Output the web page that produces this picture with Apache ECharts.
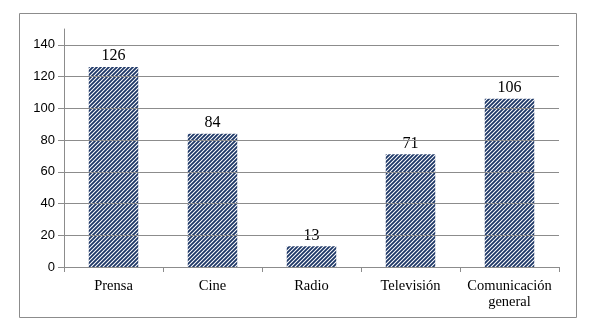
<!DOCTYPE html>
<html><head><meta charset="utf-8">
<script src="https://cdn.jsdelivr.net/npm/echarts@6/dist/echarts.min.js"></script>
<style>html,body{margin:0;padding:0;background:#fff}#c{width:600px;height:329px}</style>
</head><body><div id="c"></div>
<script>
const categories = ['Prensa', 'Cine', 'Radio', 'Televisión', 'Comunicación\ngeneral'];
const values = [126, 84, 13, 71, 106];
const yTicks = [0, 20, 40, 60, 80, 100, 120, 140];

function hatch() {
  const c = document.createElement('canvas');
  c.width = 4; c.height = 4;
  const g = c.getContext('2d');
  g.fillStyle = '#ffffff'; g.fillRect(0, 0, 4, 4);
  g.strokeStyle = '#1c3666'; g.lineWidth = 1.8;
  g.beginPath();
  g.moveTo(-1, 5); g.lineTo(5, -1);
  g.moveTo(-1, 1); g.lineTo(1, -1);
  g.moveTo(3, 5); g.lineTo(5, 3);
  g.stroke();
  return c;
}

const chart = echarts.init(document.getElementById('c'), null, {renderer: 'canvas'});
chart.setOption({
  animation: false,
  graphic: [{type: 'rect', shape: {x: 19.5, y: 13.5, width: 557, height: 304}, style: {fill: 'none', stroke: '#8c8c8c', lineWidth: 1}}],
  grid: {left: 64, right: 41, top: 29, bottom: 62},
  xAxis: {
    type: 'category', data: categories,
    axisLine: {lineStyle: {color: '#8c8c8c'}},
    axisTick: {show: true, interval: 0, length: 5, lineStyle: {color: '#8c8c8c'}},
    axisLabel: {interval: 0, hideOverlap: false, fontFamily: 'Liberation Serif', fontSize: 14.5, color: '#000', margin: 11, lineHeight: 16}
  },
  yAxis: {
    type: 'value', min: 0, max: 150, interval: 10,
    axisLine: {show: true, lineStyle: {color: '#8c8c8c'}},
    axisTick: {show: true, length: 6, customValues: yTicks, lineStyle: {color: '#8c8c8c'}},
    axisLabel: {customValues: yTicks, fontFamily: 'Liberation Sans', fontSize: 13, color: '#000', margin: 9},
    splitLine: {show: false}
  },
  series: [{
    type: 'bar', data: values, barWidth: '50%',
    itemStyle: {color: {image: hatch(), repeat: 'repeat'}},
    label: {show: true, position: 'top', distance: 3, fontFamily: 'Liberation Serif', fontSize: 16, color: '#000'},
    markLine: {
      silent: true, symbol: 'none', label: {show: false},
      lineStyle: {color: '#8c8c8c', type: 'solid', width: 1},
      data: yTicks.filter(v => v > 0).map(v => ({yAxis: v}))
    },
    z: 3
  }]
});
</script></body></html>
